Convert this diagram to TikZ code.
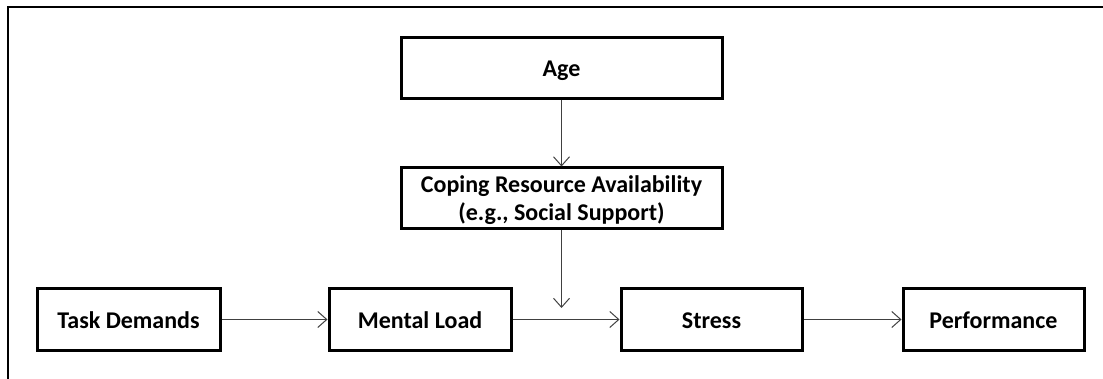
\documentclass[tikz,border=0pt]{standalone}
\usepackage{fontspec}
\setmainfont{Carlito}
\usetikzlibrary{arrows.meta}
\begin{document}
\begin{tikzpicture}[x=1pt,y=-1pt,
  stepbox/.style={draw=black,line width=3pt,minimum height=61pt,inner sep=0pt,
    align=center,text height=21pt,text depth=3pt,
    font=\bfseries\fontsize{24}{28}\selectfont},
  link/.style={draw=black!75,line width=1pt,
    -{Straight Barb[length=9pt,width=16pt,line width=1pt]}}]
  \useasboundingbox (0,0) rectangle (1103,379);
  % open frame: top and left edges only
  \draw[line width=2.2pt] (8,379) -- (8,7) -- (1103,7);
  % upper column
  \node[stepbox,minimum width=321pt] (age) at (561.5,68) {Age};
  \node[stepbox,minimum width=321pt,text height=47pt,text depth=2pt] (cope) at (561.5,198.5)
    {Coping Resource Availability\\(e.g., Social Support)};
  % lower row
  \node[stepbox,minimum width=183pt] (task) at (128.5,319.5) {Task Demands};
  \node[stepbox,minimum width=182pt] (load) at (420,319.5) {Mental Load};
  \node[stepbox,minimum width=181pt] (stress) at (711.5,319.5) {Stress};
  \node[stepbox,minimum width=181pt] (perf) at (993.5,319.5) {Performance};
  \coordinate (mod) at (561.5,308);
  % connectors
  \draw[link] (age) -- (cope);
  \draw[link] (cope) -- (mod);
  \draw[link] (task) -- (load);
  \draw[link] (load) -- (stress);
  \draw[link] (stress) -- (perf);
\end{tikzpicture}
\end{document}
